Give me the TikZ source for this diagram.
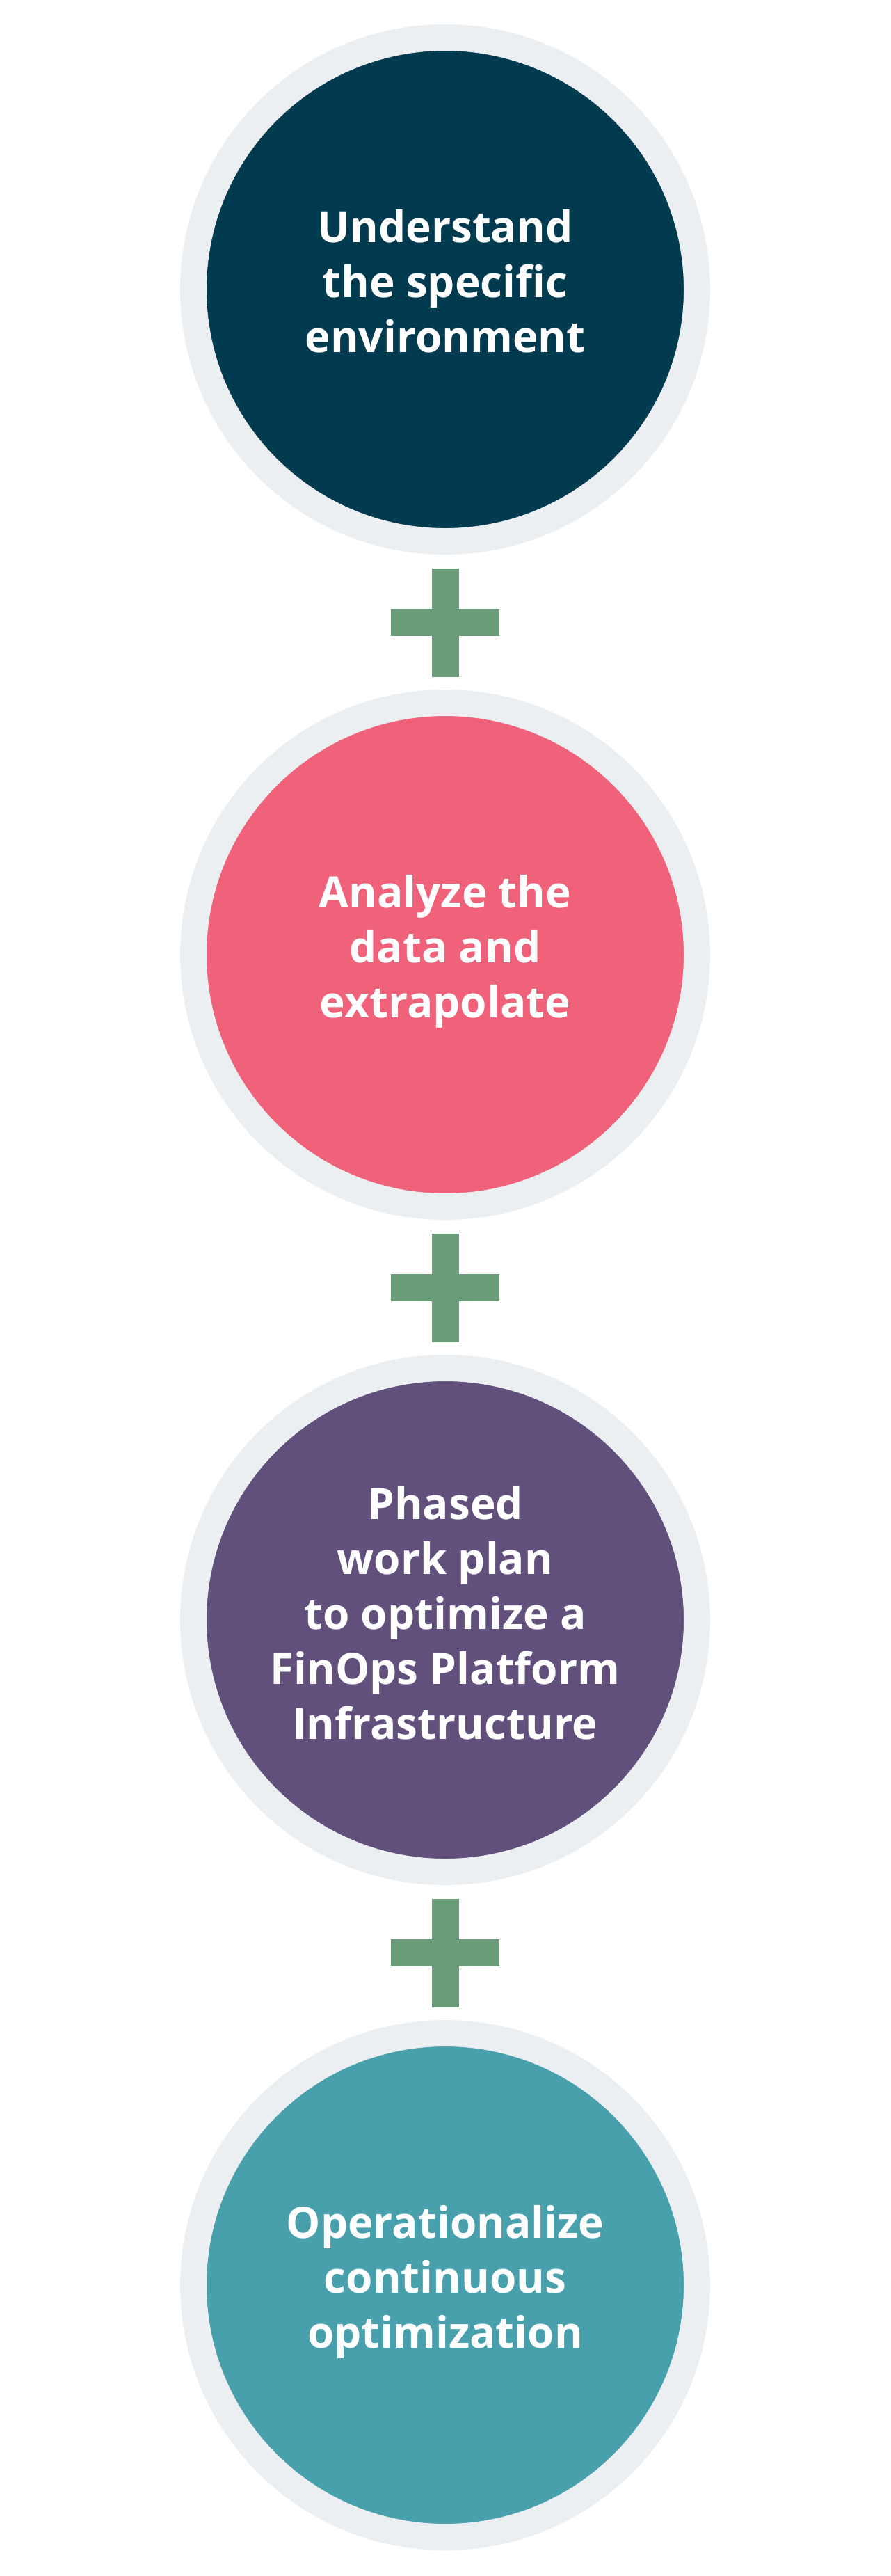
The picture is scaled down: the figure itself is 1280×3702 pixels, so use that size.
\documentclass[tikz,border=0pt]{standalone}
\usepackage{fontspec}
\setmainfont{Open Sans}
\definecolor{ringgray}{HTML}{ECEFF2}
\definecolor{cdark}{HTML}{023B4F}
\definecolor{cpink}{HTML}{F0627A}
\definecolor{cpurple}{HTML}{62507C}
\definecolor{cteal}{HTML}{48A0AC}
\definecolor{plusgreen}{HTML}{6B9C79}
\begin{document}
\begin{tikzpicture}[x=1pt,y=-1pt]
\useasboundingbox (0,0) rectangle (1280,3702);
\tikzset{
  stage/.style={circle, draw=ringgray, line width=38pt, minimum size=724pt,
    inner sep=0pt, outer sep=0pt},
  stagetext/.style={text=white, align=center, inner sep=0pt,
    font=\fontsize{62}{79}\selectfont\bfseries},
  plussign/.pic={
    \fill[plusgreen] (-78,-19.5) rectangle (78,19.5);
    \fill[plusgreen] (-19.5,-78) rectangle (19.5,78);
  }
}
\node[stage, fill=cdark]   (s1) at (640,416)  {};
\node[stage, fill=cpink]   (s2) at (640,1372) {};
\node[stage, fill=cpurple] (s3) at (640,2328) {};
\node[stage, fill=cteal]   (s4) at (640,3284) {};
\node[stagetext] (t1) at ([yshift=12pt]s1.center) {Understand\\the specific\\environment};
\node[stagetext] (t2) at ([yshift=5pt]s2.center) {Analyze the\\data and\\extrapolate};
\node[stagetext] (t3) at ([yshift=10pt]s3.center) {Phased\\work plan\\to optimize a\\FinOps Platform\\Infrastructure};
\node[stagetext] (t4) at ([yshift=5pt]s4.center) {Operationalize\\continuous\\optimization};
\pic at (640,894.5) {plussign};
\pic at (640,1850.5) {plussign};
\pic at (640,2806.5) {plussign};
\end{tikzpicture}
\end{document}
